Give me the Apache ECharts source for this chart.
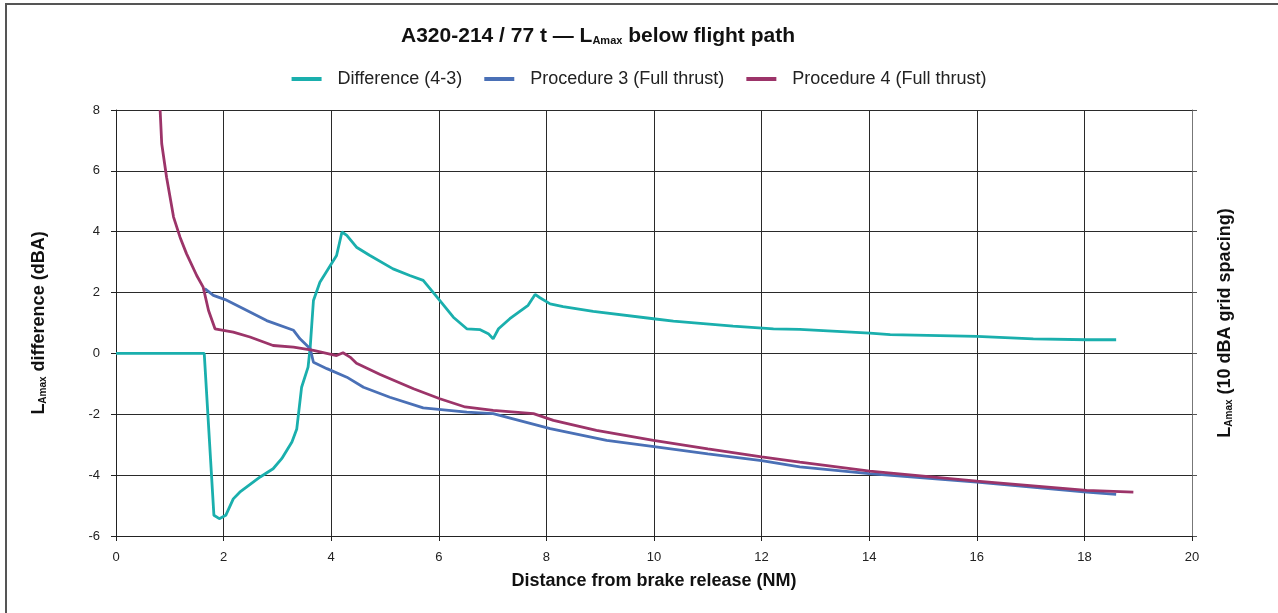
<!DOCTYPE html>
<html>
<head>
<meta charset="utf-8">
<script src="https://cdn.jsdelivr.net/npm/echarts@6/dist/echarts.min.js"></script>
<style>
  body { margin: 0; background: #fff; }
</style>
</head>
<body>
<div id="main" style="width: 1278px;height: 613px;background: #fff"></div>
<script>
// distance from brake release (NM) / value (dBA)
var diffX = [0, 1.64, 1.82, 1.92, 2.04, 2.18, 2.30, 2.68, 2.92, 3.08, 3.27, 3.36, 3.45, 3.57, 3.61, 3.67, 3.79, 4.10, 4.20, 4.29, 4.47, 4.72, 5.15, 5.46, 5.71, 5.99, 6.27, 6.52, 6.77, 6.92, 7.01, 7.11, 7.32, 7.66, 7.79, 7.88, 8.07, 8.31, 8.87, 9.99, 10.36, 11.47, 12.22, 12.71, 14.01, 14.39, 16.0, 17.05, 18.04, 18.59]
var diffY = [0, 0, -5.32, -5.43, -5.32, -4.78, -4.56, -4.06, -3.79, -3.46, -2.91, -2.48, -1.11, -0.45, 0.21, 1.74, 2.34, 3.22, 3.99, 3.88, 3.49, 3.22, 2.78, 2.56, 2.40, 1.80, 1.19, 0.81, 0.78, 0.65, 0.48, 0.81, 1.14, 1.58, 1.94, 1.83, 1.63, 1.54, 1.38, 1.14, 1.06, 0.90, 0.81, 0.79, 0.67, 0.62, 0.56, 0.48, 0.45, 0.45]

var proc3X = [1.65, 1.81, 2.03, 2.37, 2.80, 3.30, 3.42, 3.61, 3.67, 3.92, 4.29, 4.60, 5.09, 5.71, 6.52, 7.01, 8.07, 9.12, 10.0, 11.0, 12.0, 12.71, 14.0, 16.0, 18.04, 18.59]
var proc3Y = [2.13, 1.91, 1.77, 1.47, 1.08, 0.76, 0.48, 0.15, -0.29, -0.50, -0.78, -1.11, -1.44, -1.79, -1.93, -1.98, -2.47, -2.86, -3.06, -3.30, -3.52, -3.73, -3.95, -4.23, -4.56, -4.63]

var proc4X = [0.82, 0.85, 0.94, 1.07, 1.19, 1.31, 1.50, 1.62, 1.72, 1.84, 2.18, 2.49, 2.92, 3.30, 3.67, 4.10, 4.22, 4.35, 4.47, 4.91, 5.53, 6.02, 6.49, 7.01, 7.76, 8.13, 8.93, 9.99, 11.0, 12.0, 12.71, 14.01, 16.0, 18.04, 18.91]
var proc4Y = [8.0, 6.89, 5.79, 4.48, 3.82, 3.28, 2.56, 2.18, 1.41, 0.81, 0.70, 0.54, 0.26, 0.21, 0.10, -0.07, 0.02, -0.12, -0.32, -0.69, -1.16, -1.49, -1.76, -1.87, -1.98, -2.20, -2.53, -2.86, -3.14, -3.40, -3.57, -3.87, -4.20, -4.50, -4.56]

var seriesNames = ['Difference (4-3)', 'Procedure 3 (Full thrust)', 'Procedure 4 (Full thrust)']
var seriesColors = ['#1aafad', '#4a70b6', '#9c3469']

function pairs (xs, ys) {
  return xs.map(function (x, i) { return [x, ys[i]] })
}

var font = 'Liberation Sans, Arial, sans-serif'
var subRich = {
  b: { fontFamily: font, fontWeight: 'bold', fontSize: 18, color: '#111' },
  s: { fontFamily: font, fontWeight: 'bold', fontSize: 10, color: '#111', padding: [8, 0, 0, 0] }
}

var mychart = echarts.init(document.getElementById('main'))
var option = {
  backgroundColor: '#fff',
  animation: false,
  graphic: [{
    // frame round the picture
    type: 'rect',
    shape: { x: 6, y: 4, width: 1300, height: 640 },
    style: { fill: 'none', stroke: '#555', lineWidth: 2 }
  }],
  title: {
    text: '{b|A320-214 / 77 t — L}{s|Amax}{b| below flight path}',
    left: 396,
    top: 21,
    textStyle: {
      rich: {
        b: { fontFamily: font, fontWeight: 'bold', fontSize: 21, color: '#111' },
        s: { fontFamily: font, fontWeight: 'bold', fontSize: 11, color: '#111', padding: [9, 0, 0, 0] }
      }
    }
  },
  legend: {
    data: seriesNames,
    top: 65,
    left: 'center',
    icon: 'rect',
    itemWidth: 30,
    itemHeight: 4,
    itemGap: 22,
    textStyle: { fontFamily: font, fontSize: 18, color: '#222', padding: [0, 0, 0, 11] }
  },
  grid: {
    left: 116,
    right: 86,
    top: 110,
    bottom: 77
  },
  xAxis: {
    type: 'value',
    min: 0,
    max: 20,
    interval: 2,
    name: 'Distance from brake release (NM)',
    nameLocation: 'middle',
    nameGap: 36,
    nameTextStyle: { fontFamily: font, fontWeight: 'bold', fontSize: 18, color: '#111' },
    axisLine: { onZero: false, lineStyle: { color: '#222', width: 1 } },
    axisTick: { show: true, length: 5, lineStyle: { color: '#222' } },
    axisLabel: { fontFamily: font, fontSize: 13, color: '#222', margin: 15 },
    splitLine: { show: true, lineStyle: { color: '#2a2a2a', width: 1 } }
  },
  yAxis: [
    {
      type: 'value',
      min: -6,
      max: 8,
      interval: 2,
      name: '{b|L}{s|Amax}{b| difference (dBA)}',
      nameLocation: 'middle',
      nameGap: 68,
      nameRotate: 90,
      nameTextStyle: { rich: subRich },
      axisLine: { show: true, lineStyle: { color: '#222', width: 1 } },
      axisTick: { show: true, length: 5, lineStyle: { color: '#222' } },
      axisLabel: { fontFamily: font, fontSize: 13, color: '#222', margin: 16 },
      splitLine: { show: true, lineStyle: { color: '#2a2a2a', width: 1 } }
    },
    {
      type: 'value',
      min: -6,
      max: 8,
      interval: 2,
      position: 'right',
      name: '{b|L}{s|Amax}{b| (10 dBA grid spacing)}',
      nameLocation: 'middle',
      nameGap: 24,
      nameRotate: 90,
      nameTextStyle: { rich: subRich },
      axisLine: { show: true, lineStyle: { color: '#777', width: 1 } },
      axisTick: { show: true, length: 5, lineStyle: { color: '#555' } },
      axisLabel: { show: false },
      splitLine: { show: false }
    }
  ],
  series: [
    {
      name: seriesNames[0],
      type: 'line',
      data: pairs(diffX, diffY),
      symbol: 'none',
      lineStyle: { width: 2.8, color: seriesColors[0] },
      itemStyle: { color: seriesColors[0] }
    },
    {
      name: seriesNames[1],
      type: 'line',
      data: pairs(proc3X, proc3Y),
      symbol: 'none',
      lineStyle: { width: 2.8, color: seriesColors[1] },
      itemStyle: { color: seriesColors[1] }
    },
    {
      name: seriesNames[2],
      type: 'line',
      data: pairs(proc4X, proc4Y),
      symbol: 'none',
      lineStyle: { width: 2.8, color: seriesColors[2] },
      itemStyle: { color: seriesColors[2] }
    }
  ]
}
mychart.setOption(option)
</script>
</body>
</html>
